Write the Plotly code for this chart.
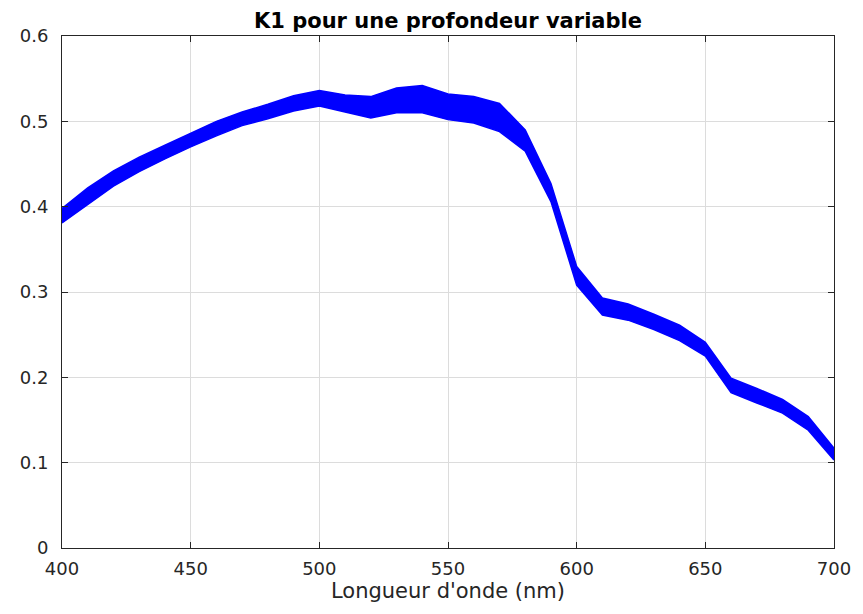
import plotly.graph_objects as go

# Longueur d'onde (nm)
wavelength = [400, 410, 420, 430, 440, 450, 460, 470, 480, 490,
              500, 510, 520, 530, 540, 550, 560, 570, 580, 590,
              600, 610, 620, 630, 640, 650, 660, 670, 680, 690, 700]

# K1 enveloppe haute / basse (profondeur variable)
k1_high = [0.398, 0.422, 0.442, 0.458, 0.472, 0.486, 0.500, 0.511, 0.520, 0.530,
           0.536, 0.531, 0.529, 0.539, 0.542, 0.532, 0.529, 0.521, 0.490, 0.427,
           0.330, 0.293, 0.286, 0.274, 0.261, 0.241, 0.199, 0.187, 0.174, 0.154, 0.117]
k1_low = [0.381, 0.403, 0.424, 0.441, 0.456, 0.470, 0.483, 0.495, 0.503, 0.512,
          0.518, 0.511, 0.504, 0.510, 0.510, 0.502, 0.498, 0.488, 0.465, 0.406,
          0.308, 0.273, 0.267, 0.256, 0.243, 0.225, 0.182, 0.170, 0.158, 0.138, 0.103]

FONT = 'DejaVu Sans, Liberation Sans, Arial'

fig = go.Figure()
fig.add_trace(go.Scatter(x=wavelength, y=k1_low, mode='lines',
                         line=dict(color='#0000ff', width=1.5), showlegend=False))
fig.add_trace(go.Scatter(x=wavelength, y=k1_high, mode='lines', fill='tonexty',
                         fillcolor='#0000ff',
                         line=dict(color='#0000ff', width=1.5), showlegend=False))

axis_style = dict(
    showline=True, linecolor='#262626', linewidth=1, mirror='ticks',
    ticks='inside', ticklen=6, tickcolor='#262626',
    showgrid=True, gridcolor='#dcdcdc', gridwidth=1, zeroline=False,
    tickfont=dict(family=FONT, size=18, color='#262626'),
)

fig.update_xaxes(range=[400, 700], tickvals=[400, 450, 500, 550, 600, 650, 700],
                 ticklabelstandoff=4,
                 title=dict(text="Longueur d'onde (nm)", standoff=2,
                            font=dict(family=FONT, size=21, color='#262626')),
                 **axis_style)
fig.update_yaxes(range=[0, 0.6], tickvals=[0, 0.1, 0.2, 0.3, 0.4, 0.5, 0.6],
                 ticktext=['0', '0.1', '0.2', '0.3', '0.4', '0.5', '0.6'],
                 ticklabelstandoff=9,
                 **axis_style)

fig.update_layout(
    title=dict(text='<b>K1 pour une profondeur variable</b>', x=0.5, xref='paper',
               xanchor='center', y=1 - 13 / 606, yanchor='middle',
               font=dict(family=FONT, size=21, color='black')),
    width=855, height=606,
    margin=dict(l=46, r=24, t=28, b=66),
    plot_bgcolor='white', paper_bgcolor='white',
)

fig.write_html("out.html")
